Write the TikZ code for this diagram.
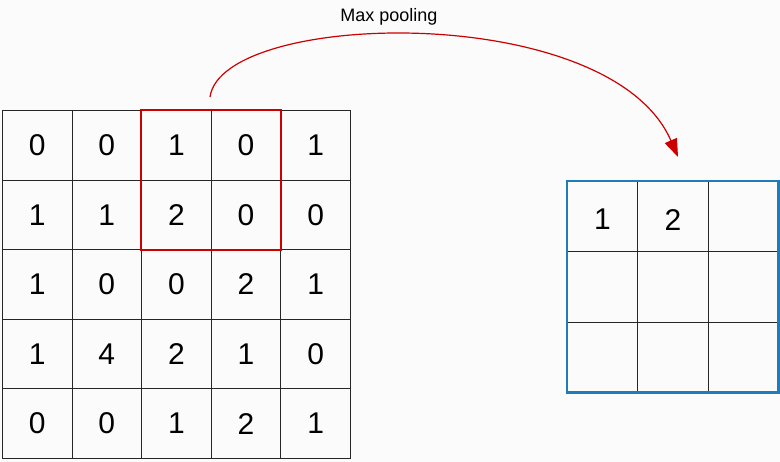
\documentclass[tikz,border=0pt]{standalone}
\usepackage{fontspec}
\setmainfont{Liberation Sans}
\usetikzlibrary{arrows.meta}
\begin{document}
\begin{tikzpicture}[x=1pt,y=-1pt,
  cellbox/.style={draw=black!85,line width=0.8pt,minimum size=69.6pt,inner sep=0,anchor=north west,font=\fontsize{30}{34}\selectfont},
  rcell/.style={draw=black!85,line width=0.8pt,minimum size=70.3pt,inner sep=0,anchor=north west,font=\fontsize{30}{34}\selectfont}]
\fill[white!97!gray] (0,0) rectangle (780,462);
\useasboundingbox (0,0) rectangle (780,462);
\foreach \r/\row in {0/{0,0,1,0,1},1/{1,1,2,0,0},2/{1,0,0,2,1},3/{1,4,2,1,0},4/{0,0,1,2,1}}{
  \foreach \v [count=\c from 0] in \row {
    \node[cellbox] (L\r\c) at ({2+69.6*\c},{110+69.6*\r}) {\v};
  }
}
\draw[red!80!black,line width=1.8pt] (L02.north west) rectangle (L13.south east);
\foreach \r in {0,1,2}{\foreach \c in {0,1,2}{
  \node[rcell] (R\r\c) at ({567+70.3*\c},{181+70.3*\r}) {};
}}
\node[font=\fontsize{30}{34}\selectfont] (v1) at ([yshift=-3pt]R00) {1};
\node[font=\fontsize{30}{34}\selectfont] (v2) at ([yshift=-3pt]R01) {2};
\draw[color={rgb,255:red,30;green,125;blue,185},line width=2.8pt] (R00.north west) rectangle (R22.south east);
\coordinate (s) at (210,97);
\coordinate (e) at (678,157);
\draw[red!80!black,line width=1.2pt,-{Triangle[length=18pt,width=13pt]}] (s) .. controls (222,10) and (610,0) .. (e);
\node[font=\fontsize{18}{21}\selectfont] (lab) at (389,17) {Max pooling};
\end{tikzpicture}
\end{document}
